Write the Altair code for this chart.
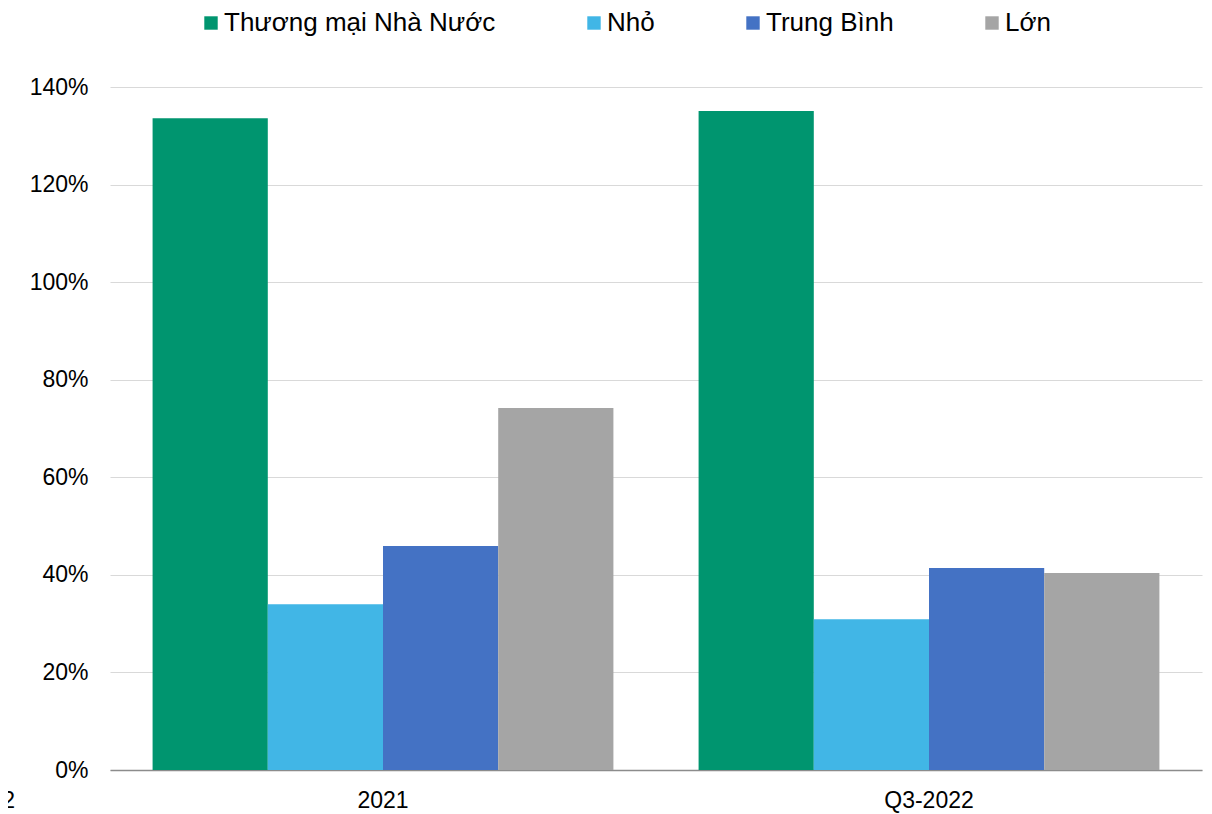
import altair as alt
import pandas as pd

categories = ["2021", "Q3-2022"]
series = ["Thương mại Nhà Nước", "Nhỏ", "Trung Bình", "Lớn"]
colors = ["#00956F", "#41B6E6", "#4472C4", "#A5A5A5"]
values = {
    "Thương mại Nhà Nước": [133.6, 135.1],
    "Nhỏ": [34.0, 30.9],
    "Trung Bình": [45.9, 41.4],
    "Lớn": [74.2, 40.4],
}
y_ticks = [0, 20, 40, 60, 80, 100, 120, 140]

rows = []
for s in series:
    for c, v in zip(categories, values[s]):
        rows.append({"cat": c, "series": s, "value": v / 100})
df = pd.DataFrame(rows)

FONT = "Liberation Sans"

bars = alt.Chart(df).mark_bar().encode(
    x=alt.X("cat:N", sort=categories, title=None,
            scale=alt.Scale(paddingInner=0.156, paddingOuter=0.078),
            axis=alt.Axis(labelAngle=0, ticks=False, domainColor="#8C8C8C",
                          domainWidth=1.5, labelPadding=19, labelFontSize=23,
                          labelColor="#000000", labelFont=FONT, grid=False)),
    xOffset=alt.XOffset("series:N", sort=series, scale=alt.Scale(paddingInner=0, paddingOuter=0)),
    y=alt.Y("value:Q", title=None,
            scale=alt.Scale(domain=[0, 1.4], nice=False),
            axis=alt.Axis(values=[t / 100 for t in y_ticks], format=".0%", domain=False,
                          ticks=False, gridColor="#D9D9D9", gridWidth=1,
                          labelPadding=22, labelFontSize=23, labelColor="#000000",
                          labelFont=FONT)),
    color=alt.Color("series:N", sort=series,
                    scale=alt.Scale(domain=series, range=colors),
                    legend=alt.Legend(title=None, orient="none", direction="horizontal",
                                      legendX=88, legendY=-77, symbolType="square",
                                      symbolSize=180, symbolStrokeWidth=0,
                                      labelFontSize=26, labelFont=FONT, labelColor="#000000",
                                      labelLimit=0, columnPadding=85, labelOffset=0,
                                      columns=4)),
)

stray = alt.Chart(pd.DataFrame({"t": ["2"]})).mark_text(
    align="right", baseline="middle", fontSize=23, font=FONT, color="#000000"
).encode(x=alt.value(-95), y=alt.value(714), text="t:N")

chart = alt.layer(bars, stray).properties(
    width=1092, height=683,
    autosize=alt.AutoSizeParams(type="none"),
    padding={"left": 102, "top": 79, "right": 2, "bottom": 44},
).configure(font=FONT).configure_view(stroke=None, strokeWidth=0)

chart.save("out.html", embed_options={"renderer": "svg", "actions": False})
